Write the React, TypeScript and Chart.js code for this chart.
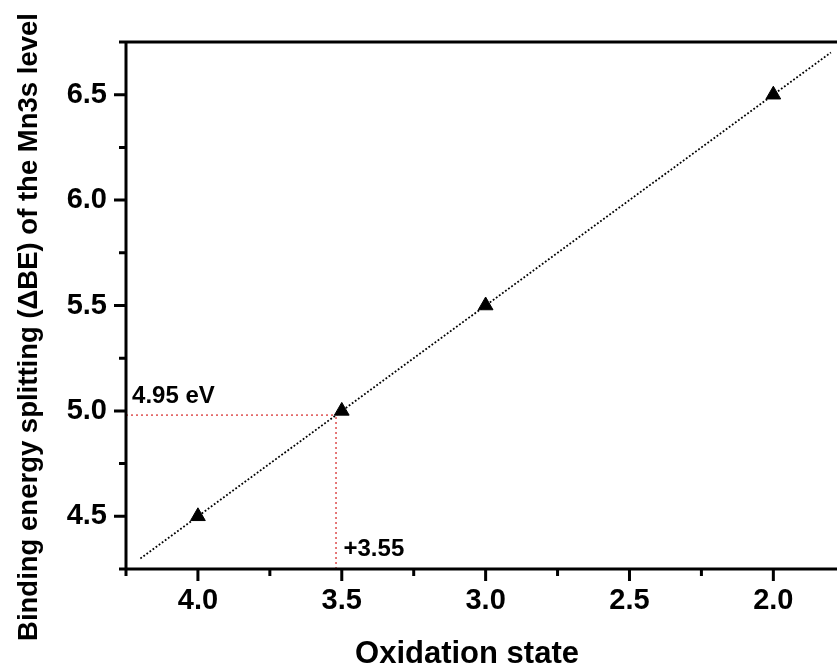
import React, { useEffect, useRef } from "react";
import { Chart, registerables } from "chart.js";

Chart.register(...registerables);

// ---- data ----
const oxidationStates = [4.0, 3.5, 3.0, 2.0];
const splittingValues = [4.5, 5.0, 5.5, 6.5];
const fitLineX = [4.2, 1.8];
const fitLineY = [4.3, 6.7];
const markerOxidation = 3.52;
const markerSplitting = 4.98;
const xMajorTicks = [4.0, 3.5, 3.0, 2.5, 2.0];
const xMinorTicks = [4.25, 3.75, 3.25, 2.75, 2.25];
const yMajorTicks = [4.5, 5.0, 5.5, 6.0, 6.5];
const yMinorTicks = [4.25, 4.75, 5.25, 5.75, 6.25, 6.75];
const xRange = [1.777, 4.25];
const yRange = [4.25, 6.75];
const energyLabel = "4.95 eV";
const oxidationLabel = "+3.55";
const xTitle = "Oxidation state";
const yTitle = "Binding energy splitting (ΔBE) of the Mn3s level";

const FONT = "'Liberation Sans', Arial, sans-serif";

const framePlugin = {
  id: "originFrame",
  afterDraw(chart: any) {
    const { ctx, chartArea } = chart;
    const xs = chart.scales.x;
    const ys = chart.scales.y;
    const { left, right, top, bottom } = chartArea;
    ctx.save();
    ctx.strokeStyle = "#000";
    ctx.lineWidth = 3;
    ctx.lineCap = "butt";
    ctx.beginPath();
    ctx.moveTo(left, top - 1.5);
    ctx.lineTo(left, bottom + 1.5);
    ctx.moveTo(left - 1.5, bottom);
    ctx.lineTo(right, bottom);
    ctx.moveTo(left - 1.5, top);
    ctx.lineTo(right, top);
    for (const v of yMajorTicks) {
      const p = ys.getPixelForValue(v);
      ctx.moveTo(left, p);
      ctx.lineTo(left - 12, p);
    }
    for (const v of yMinorTicks) {
      const p = ys.getPixelForValue(v);
      ctx.moveTo(left, p);
      ctx.lineTo(left - 7, p);
    }
    for (const v of xMajorTicks) {
      const p = xs.getPixelForValue(v);
      ctx.moveTo(p, bottom);
      ctx.lineTo(p, bottom + 12);
    }
    for (const v of xMinorTicks) {
      const p = xs.getPixelForValue(v);
      ctx.moveTo(p, bottom);
      ctx.lineTo(p, bottom + 7);
    }
    ctx.stroke();

    ctx.fillStyle = "#000";
    ctx.font = `bold 24px ${FONT}`;
    ctx.textAlign = "left";
    ctx.textBaseline = "alphabetic";
    ctx.fillText(energyLabel, xs.getPixelForValue(4.229), ys.getPixelForValue(5.037));
    ctx.fillText(oxidationLabel, xs.getPixelForValue(3.494), ys.getPixelForValue(4.312));

    ctx.font = `bold 31px ${FONT}`;
    ctx.textAlign = "center";
    ctx.fillText(xTitle, 467, 663);

    ctx.save();
    ctx.translate(37, 327);
    ctx.rotate(-Math.PI / 2);
    ctx.font = `bold 27.5px ${FONT}`;
    ctx.textAlign = "center";
    ctx.fillText(yTitle, 0, 0);
    ctx.restore();

    ctx.restore();
  },
};

export default function App() {
  const ref = useRef<HTMLCanvasElement | null>(null);
  useEffect(() => {
    if (!ref.current) return;
    const red = "#e26a6a";
    const chart = new Chart(ref.current, {
      type: "scatter",
      data: {
        datasets: [
          {
            label: "data",
            data: oxidationStates.map((x, i) => ({ x, y: splittingValues[i] })),
            pointStyle: "triangle",
            pointRadius: 8.5,
            pointHoverRadius: 8.5,
            backgroundColor: "#000",
            borderColor: "#000",
            borderWidth: 1,
            showLine: false,
          },
          {
            label: "fit",
            data: fitLineX.map((x, i) => ({ x, y: fitLineY[i] })),
            showLine: true,
            pointRadius: 0,
            borderColor: "#000",
            borderWidth: 1.8,
            borderDash: [1.8, 2],
          },
          {
            label: "h",
            data: [
              { x: xRange[1], y: markerSplitting },
              { x: markerOxidation, y: markerSplitting },
            ],
            showLine: true,
            pointRadius: 0,
            borderColor: red,
            borderWidth: 1.8,
            borderDash: [2, 3],
          },
          {
            label: "v",
            data: [
              { x: markerOxidation, y: yRange[0] },
              { x: markerOxidation, y: markerSplitting },
            ],
            showLine: true,
            pointRadius: 0,
            borderColor: red,
            borderWidth: 1.8,
            borderDash: [2, 3],
          },
        ],
      },
      options: {
        responsive: false,
        animation: false,
        layout: { padding: { top: 42, right: 0, left: 0, bottom: 0 } },
        plugins: { legend: { display: false }, tooltip: { enabled: false } },
        scales: {
          x: {
            type: "linear",
            reverse: true,
            min: xRange[0],
            max: xRange[1],
            afterBuildTicks: (s: any) => {
              s.ticks = xMajorTicks.map((value) => ({ value }));
            },
            afterFit: (s: any) => {
              s.height = 98;
              s.paddingLeft = 0;
              s.paddingRight = 0;
            },
            border: { display: false },
            grid: {
              display: true,
              drawOnChartArea: false,
              drawTicks: true,
              tickLength: 12,
              color: "rgba(0,0,0,0)",
              tickColor: "rgba(0,0,0,0)",
            },
            ticks: {
              autoSkip: false,
              maxRotation: 0,
              padding: 3,
              color: "#000",
              font: { family: FONT, weight: "bold", size: 29 },
              callback: (v: any) => Number(v).toFixed(1),
            },
          },
          y: {
            type: "linear",
            min: yRange[0],
            max: yRange[1],
            afterBuildTicks: (s: any) => {
              s.ticks = yMajorTicks.map((value) => ({ value }));
            },
            afterFit: (s: any) => {
              s.width = 126;
              s.paddingTop = 0;
              s.paddingBottom = 0;
            },
            border: { display: false },
            grid: {
              display: true,
              drawOnChartArea: false,
              drawTicks: true,
              tickLength: 12,
              color: "rgba(0,0,0,0)",
              tickColor: "rgba(0,0,0,0)",
            },
            ticks: {
              autoSkip: false,
              padding: 7,
              color: "#000",
              font: { family: FONT, weight: "bold", size: 29 },
              callback: (v: any) => Number(v).toFixed(1),
            },
          },
        },
      },
      plugins: [framePlugin],
    });
    return () => chart.destroy();
  }, []);
  return (
    <div
      style={{
        position: "fixed",
        left: 0,
        top: 0,
        width: 837,
        height: 667,
        overflow: "hidden",
        background: "#fff",
      }}
    >
      <canvas ref={ref} width={847} height={667} style={{ display: "block" }} />
    </div>
  );
}
